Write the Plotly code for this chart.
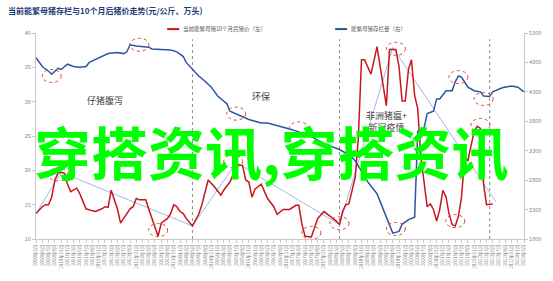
import plotly.graph_objects as go

# ---------------- data ----------------
blue_dates = ["2010-03", "2010-05", "2010-07", "2010-08", "2010-10", "2010-11", "2011-01", "2011-03",
              "2011-05", "2011-07", "2011-08", "2011-10", "2012-02", "2012-05", "2012-07", "2012-08",
              "2012-09", "2012-11", "2013-01", "2013-03", "2013-04", "2013-07", "2013-10", "2013-12",
              "2014-02", "2014-03", "2014-05", "2014-07", "2014-09", "2014-11", "2015-01", "2015-04",
              "2015-05", "2015-07", "2015-09", "2015-11", "2016-01", "2016-03", "2016-05", "2016-08",
              "2016-12", "2017-03", "2017-06", "2017-09", "2017-12", "2018-04", "2018-07", "2018-09",
              "2019-01", "2019-04", "2019-06", "2019-08", "2019-09", "2019-11", "2019-12", "2020-02",
              "2020-04", "2020-05", "2020-07", "2020-08", "2020-10", "2020-11", "2020-12", "2021-02",
              "2021-04", "2021-05", "2021-06", "2021-07", "2021-09", "2021-11", "2022-01", "2022-02",
              "2022-04", "2022-05", "2022-08", "2022-11", "2023-01", "2023-03"]
blue_vals = [4880, 4730, 4650, 4600, 4700, 4680, 4770, 4730,
             4720, 4730, 4800, 4850, 4950, 4970, 4950, 4980,
             5100, 5080, 5070, 5060, 5030, 5020, 5010, 4980,
             4900, 4800, 4680, 4570, 4480, 4380, 4230, 4100,
             3970, 3920, 3880, 3830, 3800, 3770, 3770, 3730,
             3670, 3620, 3570, 3480, 3400, 3320, 3230, 3130,
             2770, 2570, 2300, 2020, 1900, 1930, 2050, 2130,
             2170, 3630, 3680, 3930, 3970, 4180, 4180, 4320,
             4320, 4470, 4570, 4550, 4380, 4320, 4300, 4230,
             4220, 4300, 4370, 4400, 4380, 4300]

red_dates = ["2010-03", "2010-05", "2010-06", "2010-07", "2010-08", "2010-09", "2010-10", "2010-11",
             "2010-12", "2011-01", "2011-02", "2011-03", "2011-04", "2011-05", "2011-06", "2011-07",
             "2011-09", "2011-10", "2011-12", "2012-01", "2012-02", "2012-03", "2012-05", "2012-06",
             "2012-07", "2012-09", "2012-10", "2012-11", "2012-12", "2013-02", "2013-03", "2013-04",
             "2013-05", "2013-06", "2013-07", "2013-09", "2013-10", "2013-11", "2013-12", "2014-01",
             "2014-02", "2014-03", "2014-05", "2014-07", "2014-08", "2014-10", "2014-12", "2015-02",
             "2015-03", "2015-05", "2015-06", "2015-07", "2015-09", "2015-10", "2015-11", "2015-12",
             "2016-01", "2016-03", "2016-04", "2016-05", "2016-07", "2016-08", "2016-10", "2016-12",
             "2017-02", "2017-03", "2017-04", "2017-05", "2017-07", "2017-08", "2017-09", "2017-11",
             "2017-12", "2018-01", "2018-03", "2018-04", "2018-05", "2018-06", "2018-07", "2018-08",
             "2018-09", "2018-10", "2018-11", "2018-12", "2019-02", "2019-04", "2019-05", "2019-07",
             "2019-08", "2019-10", "2019-11", "2019-12", "2020-01", "2020-02", "2020-03", "2020-04",
             "2020-05", "2020-06", "2020-08", "2020-09", "2020-10", "2020-11", "2020-12", "2021-01",
             "2021-02", "2021-03", "2021-04", "2021-05", "2021-06", "2021-07", "2021-08", "2021-09",
             "2021-11", "2021-12", "2022-01", "2022-02", "2022-03", "2022-04", "2022-05"]
red_vals = [13.7, 14.7, 15.0, 15.0, 16.1, 18.6, 19.6, 19.7,
            19.6, 18.0, 16.9, 17.1, 17.4, 16.6, 15.4, 14.4,
            14.1, 14.0, 14.4, 14.7, 14.6, 17.1, 14.4, 12.3,
            13.0, 14.4, 14.7, 15.9, 15.7, 15.7, 14.4, 13.0,
            11.9, 10.4, 12.3, 13.0, 13.7, 15.0, 14.7, 14.0,
            13.7, 13.0, 11.9, 13.6, 15.0, 18.6, 17.6, 16.4,
            17.1, 18.3, 19.4, 20.9, 20.7, 18.6, 18.3, 16.1,
            17.3, 18.0, 16.9, 15.9, 14.7, 13.6, 14.3, 14.3,
            14.9, 14.9, 12.1, 10.4, 10.3, 11.6, 13.0, 14.0,
            13.6, 13.3, 12.6, 12.1, 14.0, 15.0, 15.1, 17.1,
            19.0, 24.7, 36.1, 36.1, 34.0, 38.0, 35.1, 29.4,
            37.6, 37.6, 35.1, 30.1, 30.1, 34.7, 36.1, 30.9,
            29.0, 21.9, 14.7, 15.1, 14.3, 12.6, 14.3, 17.1,
            16.1, 13.7, 12.1, 11.9, 13.3, 16.1, 21.9, 21.4,
            25.7, 26.4, 26.1, 18.0, 15.0, 15.0, 15.1]

trend_dates = ["2010-03", "2010-11", "2014-05", "2015-07", "2018-04", "2019-09", "2022-06"]
trend_vals = [13.7, 19.7, 11.9, 21.1, 12.1, 37.9, 15.4]

cycle_dates = ["2014-05", "2018-04", "2022-04"]

circle_dates = ["2010-08", "2012-12", "2015-07", "2017-03", "2019-10", "2021-06", "2022-02", "2022-01",
                "2018-04", "2019-10", "2021-05", "2010-10", "2013-06", "2017-07", "2015-06"]
circle_vals = [4570, 5100, 3930, 3680, 37.7, 4550, 4180, 26.6,
               12.3, 1970, 12.6, 19.4, 11.3, 10.9, 21.3]
circle_axes = ["y2", "y2", "y2", "y2", "y", "y2", "y2", "y",
               "y", "y2", "y", "y", "y", "y", "y"]

note_texts = ["仔猪腹泻", "环保", "非洲猪瘟+<br>新冠疫情"]
note_dates = ["2012-01", "2016-03", "2019-07"]
note_vals = [30.1, 30.7, 27.1]

title_text = "当前能繁母猪存栏与10个月后猪价走势(元/公斤、万头)"
red_name = "当前能繁母猪10个月后猪价（左）"
blue_name = "能繁母猪存栏量（右）"
overlay_text = "穿搭资讯,穿搭资讯"

tick_vals = []
tick_text = []
for i in range(79):
    t = 2010 * 12 + 2 + 2 * i
    y, mo = t // 12, t % 12 + 1
    tick_vals.append(f"{y}-{mo:02d}-01")
    tick_text.append(f"{y}年{mo}月")

# ---------------- styles ----------------
FONT = "Noto Sans CJK SC"
RED = "#c8161d"
BLUE = "#2a56a0"
LIGHT = "#9dbbe6"
AXIS = "#c8c8c8"
TXT = "#7f7f7f"

fig = go.Figure()
fig.add_trace(go.Scatter(x=trend_dates, y=trend_vals, mode="lines",
                         line=dict(color=LIGHT, width=1), yaxis="y", showlegend=False))
fig.add_trace(go.Scatter(x=blue_dates, y=blue_vals, mode="lines", name=blue_name,
                         line=dict(color=BLUE, width=1.5), yaxis="y2", showlegend=False))
fig.add_trace(go.Scatter(x=red_dates, y=red_vals, mode="lines", name=red_name,
                         line=dict(color=RED, width=1.5), yaxis="y", showlegend=False))

shapes = []
for d in cycle_dates:
    shapes.append(dict(type="line", xref="x", yref="paper", x0=d, x1=d, y0=0, y1=0.97,
                       line=dict(color="#8c8c8c", width=1, dash="dot"), layer="below"))
for d, v, ax in zip(circle_dates, circle_vals, circle_axes):
    shapes.append(dict(type="circle", xref="x", yref=ax, xsizemode="pixel", ysizemode="pixel",
                       xanchor=d, yanchor=v, x0=-9.5, x1=9.5, y0=-6.5, y1=6.5,
                       line=dict(color="#e0403a", width=1, dash="dot")))

# manual legend samples
W, H = 553, 281
L, R, T, B = 36, 26, 33, 38
pw, ph = W - L - R, H - T - B
def px(xp):
    return (xp - L) / pw
def py(yp):
    return (H - B - yp) / ph

shapes.append(dict(type="line", xref="paper", yref="paper", x0=px(168), x1=px(180),
                   y0=py(29), y1=py(29), line=dict(color=RED, width=2)))
shapes.append(dict(type="line", xref="paper", yref="paper", x0=px(337), x1=px(349),
                   y0=py(29), y1=py(29), line=dict(color=BLUE, width=2)))

annotations = [
    dict(text=title_text, xref="paper", yref="paper", x=px(6), y=py(10), xanchor="left",
         yanchor="middle", showarrow=False, font=dict(family=FONT, size=8, color="#1f3a78", weight="bold")),
    dict(text=red_name, xref="paper", yref="paper", x=px(182), y=py(29), xanchor="left",
         yanchor="middle", showarrow=False, font=dict(family=FONT, size=5.5, color="#595959")),
    dict(text=blue_name, xref="paper", yref="paper", x=px(351), y=py(29), xanchor="left",
         yanchor="middle", showarrow=False, font=dict(family=FONT, size=5.5, color="#595959")),
]
for t, d, v in zip(note_texts, note_dates, note_vals):
    annotations.append(dict(text=t, xref="x", yref="y", x=d, y=v, showarrow=False,
                            font=dict(family=FONT, size=9, color="#404040")))
annotations.append(dict(text=overlay_text, xref="paper", yref="paper", x=px(273), y=py(152),
                        xanchor="center", yanchor="middle", showarrow=False,
                        font=dict(family=FONT, size=57, color="#00ff00", weight="bold")))

fig.update_layout(
    width=W, height=H, margin=dict(l=L, r=R, t=T, b=B),
    paper_bgcolor="white", plot_bgcolor="white", showlegend=False,
    font=dict(family=FONT, color=TXT),
    shapes=shapes, annotations=annotations,
    xaxis=dict(type="date", range=["2010-03-01", "2023-03-01"], tickvals=tick_vals, ticktext=tick_text,
               tickangle=-90, tickfont=dict(size=4.5, color=TXT), showline=True, linecolor=AXIS,
               ticks="outside", ticklen=3, tickcolor=AXIS, showgrid=False, zeroline=False),
    yaxis=dict(range=[10, 40], dtick=5, tickfont=dict(size=5.5, color=TXT), showline=True,
               linecolor=AXIS, ticks="outside", ticklen=3, tickcolor=AXIS, showgrid=False, zeroline=False),
    yaxis2=dict(range=[1800, 5300], tickvals=list(range(1800, 5301, 500)), overlaying="y", side="right",
                tickfont=dict(size=5.5, color=TXT), showline=True, linecolor=AXIS, ticks="outside",
                ticklen=3, tickcolor=AXIS, showgrid=False, zeroline=False),
)

fig.write_html("out.html")
